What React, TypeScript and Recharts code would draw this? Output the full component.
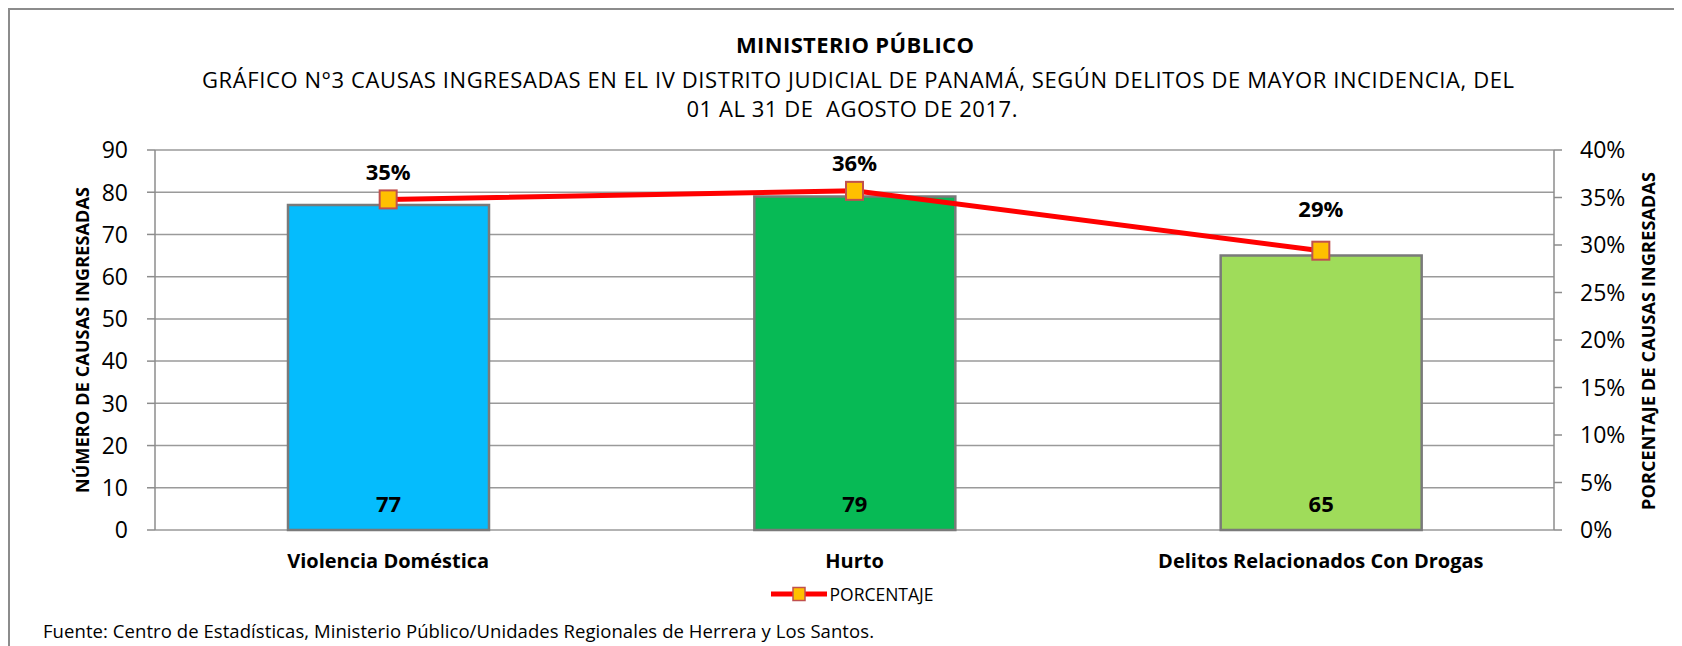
import React from 'react';
import { ComposedChart, Bar, Line, XAxis, YAxis, CartesianGrid, LabelList, Legend, Cell } from 'recharts';

if (typeof document !== 'undefined') {
  document.documentElement.style.overflow = 'hidden';
}

const categories = ['Violencia Doméstica', 'Hurto', 'Delitos Relacionados Con Drogas'];
const causas = [77, 79, 65];
const porcentaje = [0.348, 0.357, 0.294];
const porcentajeLabels = ['35%', '36%', '29%'];
const leftTicks = [0, 10, 20, 30, 40, 50, 60, 70, 80, 90];
const rightTicks = [0, 0.05, 0.1, 0.15, 0.2, 0.25, 0.3, 0.35, 0.4];
const boundaryTicks = [0, 1, 2, 3];

const barColors = ['#05BCFD', '#07BA55', '#9FDC5A'];
const pctLabelDy = [-19, -20, -34];

const data = categories.map((name, i) => ({
  name,
  causas: causas[i],
  pct: porcentaje[i],
  pctLabel: porcentajeLabels[i],
}));

const FONT = "'Open Sans', sans-serif";
const GRAY = '#8c8c8c';

const LeftTick = (props: any) => {
  const { x, y, payload } = props;
  return (
    <text x={x} y={y} dy="0.36em" textAnchor="end" fontFamily={FONT} fontSize={23} fill="#000">
      {payload.value}
    </text>
  );
};

const RightTick = (props: any) => {
  const { x, y, payload } = props;
  return (
    <text x={x} y={y} dy="0.36em" textAnchor="start" fontFamily={FONT} fontSize={23} fill="#000">
      {`${Math.round(payload.value * 100)}%`}
    </text>
  );
};

const CategoryTick = (props: any) => {
  const { x, y, payload } = props;
  return (
    <text x={x} y={y + 38} textAnchor="middle" fontFamily={FONT} fontSize={20} fontWeight={700} fill="#000">
      {payload.value}
    </text>
  );
};

const BarValueLabel = (props: any) => {
  const { x, y, width, height, value } = props;
  return (
    <text x={x + width / 2} y={y + height - 18} textAnchor="middle" fontFamily={FONT} fontSize={22} fontWeight={700} fill="#000">
      {value}
    </text>
  );
};

const PctLabel = (props: any) => {
  const { x, y, value, index } = props;
  return (
    <text x={x} y={y + pctLabelDy[index]} textAnchor="middle" fontFamily={FONT} fontSize={22} fontWeight={700} fill="#000">
      {value}
    </text>
  );
};

const SquareDot = (props: any) => {
  const { cx, cy, index } = props;
  return (
    <rect key={`dot-${index}`} x={cx - 8.5} y={cy - 9} width={17} height={18} fill="#FFC000" stroke="#C0504D" strokeWidth={2} />
  );
};

const LegendContent = (props: any) => {
  const items = (props.payload || []).filter((p: any) => p.type !== 'none');
  return (
    <div style={{ display: 'flex', justifyContent: 'center', alignItems: 'center', height: 28, paddingLeft: 22, fontFamily: FONT, fontSize: 17.5, color: '#000' }}>
      {items.map((p: any) => (
        <div key={p.value} style={{ display: 'flex', alignItems: 'center' }}>
          <svg width={56} height={20}>
            <line x1={0} y1={10} x2={56} y2={10} stroke="#FF0000" strokeWidth={5} />
            <rect x={22} y={3.5} width={12} height={13} fill="#FFC000" stroke="#C0504D" strokeWidth={1.5} />
          </svg>
          <span style={{ marginLeft: 3 }}>{p.value}</span>
        </div>
      ))}
    </div>
  );
};

export default function App() {
  return (
    <div style={{ position: 'relative', width: 1666, height: 638, fontFamily: FONT, background: '#fff' }}>
      <div style={{ position: 'absolute', left: 0, top: 0, width: 1674, height: 638, borderTop: `2px solid ${GRAY}`, borderLeft: `2px solid ${GRAY}`, boxSizing: 'border-box' }} />
      <ComposedChart width={1666} height={638} data={data} margin={{ top: 142, right: 0, bottom: 38, left: 0 }}>
        <CartesianGrid yAxisId="left" vertical={false} stroke="#9a9a9a" strokeWidth={1.5} />
        <XAxis
          xAxisId="bounds"
          type="number"
          domain={[0, 3]}
          ticks={boundaryTicks}
          tick={false}
          tickSize={8}
          tickLine={{ stroke: GRAY, strokeWidth: 1.5 }}
          axisLine={{ stroke: GRAY, strokeWidth: 1.5 }}
          height={0}
          allowDataOverflow
        />
        <XAxis
          dataKey="name"
          axisLine={false}
          tickLine={false}
          tickSize={0}
          tickMargin={0}
          height={50}
          interval={0}
          tick={<CategoryTick />}
        />
        <YAxis
          yAxisId="left"
          domain={[0, 90]}
          ticks={leftTicks}
          interval={0}
          width={147}
          tickSize={8}
          tickMargin={19}
          axisLine={{ stroke: GRAY, strokeWidth: 1.5 }}
          tickLine={{ stroke: GRAY, strokeWidth: 1.5 }}
          tick={<LeftTick />}
        />
        <YAxis
          yAxisId="right"
          orientation="right"
          domain={[0, 0.4]}
          ticks={rightTicks}
          interval={0}
          width={120}
          tickSize={8}
          tickMargin={18}
          axisLine={{ stroke: GRAY, strokeWidth: 1.5 }}
          tickLine={{ stroke: GRAY, strokeWidth: 1.5 }}
          tick={<RightTick />}
        />
        <Legend verticalAlign="bottom" height={28} content={<LegendContent />} />
        <Bar yAxisId="left" dataKey="causas" name="CAUSAS" barSize={201} stroke="#7a7a7a" strokeWidth={2.5} legendType="none" isAnimationActive={false}>
          {data.map((d, i) => (
            <Cell key={d.name} fill={barColors[i]} />
          ))}
          <LabelList dataKey="causas" content={<BarValueLabel />} />
        </Bar>
        <Line
          yAxisId="right"
          dataKey="pct"
          name="PORCENTAJE"
          stroke="#FF0000"
          strokeWidth={5}
          dot={SquareDot}
          activeDot={false}
          isAnimationActive={false}
        >
          <LabelList dataKey="pctLabel" content={<PctLabel />} />
        </Line>
      </ComposedChart>
      <svg width={1674} height={638} style={{ position: 'absolute', left: 0, top: 0, pointerEvents: 'none' }}>
        <text x={847} y={45} textAnchor="middle" fontFamily={FONT} fontSize={22} fontWeight={700} textLength={238} fill="#000">
          MINISTERIO PÚBLICO
        </text>
        <text x={850} y={80} textAnchor="middle" fontFamily={FONT} fontSize={22} textLength={1312} fill="#000">
          GRÁFICO N°3 CAUSAS INGRESADAS EN EL IV DISTRITO JUDICIAL DE PANAMÁ, SEGÚN DELITOS DE MAYOR INCIDENCIA, DEL
        </text>
        <text x={844} y={109} textAnchor="middle" fontFamily={FONT} fontSize={22} textLength={331} fill="#000" style={{ whiteSpace: 'pre' }}>
          01 AL 31 DE  AGOSTO DE 2017.
        </text>
        <text transform="translate(81, 332) rotate(-90)" textAnchor="middle" fontFamily={FONT} fontSize={18} fontWeight={700} textLength={306} fill="#000">
          NÚMERO DE CAUSAS INGRESADAS
        </text>
        <text transform="translate(1647, 333) rotate(-90)" textAnchor="middle" fontFamily={FONT} fontSize={18} fontWeight={700} textLength={338} fill="#000">
          PORCENTAJE DE CAUSAS INGRESADAS
        </text>
        <text x={35} y={630} textAnchor="start" fontFamily={FONT} fontSize={18.5} textLength={831} fill="#000">
          Fuente: Centro de Estadísticas, Ministerio Público/Unidades Regionales de Herrera y Los Santos.
        </text>
      </svg>
    </div>
  );
}
